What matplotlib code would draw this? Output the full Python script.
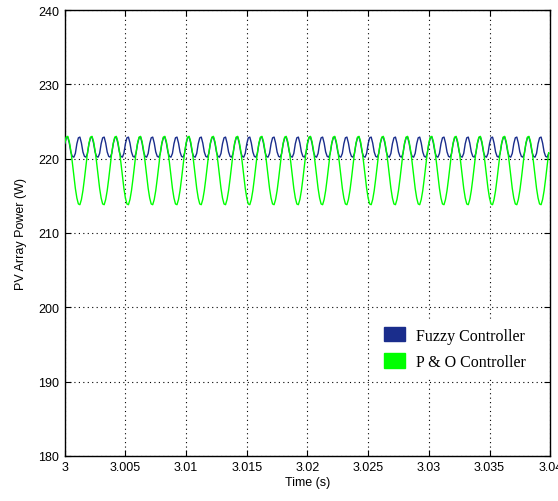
import numpy as np
import matplotlib
matplotlib.use("Agg")
import matplotlib.pyplot as plt
from matplotlib.patches import Patch

# Sample time base (s)
t_start = 3.0
t_step = 0.000125
n_samples = 320

# PV array power (W), one value per sample
fuzzy_power = [
    222.0, 222.8, 222.9, 222.1, 220.9, 220.3, 220.2, 220.7, 222.0, 222.8, 222.9, 222.1, 220.9, 220.3, 220.2, 220.7,
    222.0, 222.8, 222.9, 222.1, 220.9, 220.3, 220.2, 220.7, 222.0, 222.8, 222.9, 222.1, 220.9, 220.3, 220.2, 220.7,
    222.0, 222.8, 222.9, 222.1, 220.9, 220.3, 220.2, 220.7, 222.0, 222.8, 222.9, 222.1, 220.9, 220.3, 220.2, 220.7,
    222.0, 222.8, 222.9, 222.1, 220.9, 220.3, 220.2, 220.7, 222.0, 222.8, 222.9, 222.1, 220.9, 220.3, 220.2, 220.7,
    222.0, 222.8, 222.9, 222.1, 220.9, 220.3, 220.2, 220.7, 222.0, 222.8, 222.9, 222.1, 220.9, 220.3, 220.2, 220.7,
    222.0, 222.8, 222.9, 222.1, 220.9, 220.3, 220.2, 220.7, 222.0, 222.8, 222.9, 222.1, 220.9, 220.3, 220.2, 220.7,
    222.0, 222.8, 222.9, 222.1, 220.9, 220.3, 220.2, 220.7, 222.0, 222.8, 222.9, 222.1, 220.9, 220.3, 220.2, 220.7,
    222.0, 222.8, 222.9, 222.1, 220.9, 220.3, 220.2, 220.7, 222.0, 222.8, 222.9, 222.1, 220.9, 220.3, 220.2, 220.7,
    222.0, 222.8, 222.9, 222.1, 220.9, 220.3, 220.2, 220.7, 222.0, 222.8, 222.9, 222.1, 220.9, 220.3, 220.2, 220.7,
    222.0, 222.8, 222.9, 222.1, 220.9, 220.3, 220.2, 220.7, 222.0, 222.8, 222.9, 222.1, 220.9, 220.3, 220.2, 220.7,
    222.0, 222.8, 222.9, 222.1, 220.9, 220.3, 220.2, 220.7, 222.0, 222.8, 222.9, 222.1, 220.9, 220.3, 220.2, 220.7,
    222.0, 222.8, 222.9, 222.1, 220.9, 220.3, 220.2, 220.7, 222.0, 222.8, 222.9, 222.1, 220.9, 220.3, 220.2, 220.7,
    222.0, 222.8, 222.9, 222.1, 220.9, 220.3, 220.2, 220.7, 222.0, 222.8, 222.9, 222.1, 220.9, 220.3, 220.2, 220.7,
    222.0, 222.8, 222.9, 222.1, 220.9, 220.3, 220.2, 220.7, 222.0, 222.8, 222.9, 222.1, 220.9, 220.3, 220.2, 220.7,
    222.0, 222.8, 222.9, 222.1, 220.9, 220.3, 220.2, 220.7, 222.0, 222.8, 222.9, 222.1, 220.9, 220.3, 220.2, 220.7,
    222.0, 222.8, 222.9, 222.1, 220.9, 220.3, 220.2, 220.7, 222.0, 222.8, 222.9, 222.1, 220.9, 220.3, 220.2, 220.7,
    222.0, 222.8, 222.9, 222.1, 220.9, 220.3, 220.2, 220.7, 222.0, 222.8, 222.9, 222.1, 220.9, 220.3, 220.2, 220.7,
    222.0, 222.8, 222.9, 222.1, 220.9, 220.3, 220.2, 220.7, 222.0, 222.8, 222.9, 222.1, 220.9, 220.3, 220.2, 220.7,
    222.0, 222.8, 222.9, 222.1, 220.9, 220.3, 220.2, 220.7, 222.0, 222.8, 222.9, 222.1, 220.9, 220.3, 220.2, 220.7,
    222.0, 222.8, 222.9, 222.1, 220.9, 220.3, 220.2, 220.7, 222.0, 222.8, 222.9, 222.1, 220.9, 220.3, 220.2, 220.7,
]
po_power = [
    222.1, 222.9, 223.0, 222.3, 221.1, 219.5, 217.7, 216.0, 214.7, 213.9, 213.8, 214.5, 215.7, 217.3, 219.1, 220.8,
    222.1, 222.9, 223.0, 222.3, 221.1, 219.5, 217.7, 216.0, 214.7, 213.9, 213.8, 214.5, 215.7, 217.3, 219.1, 220.8,
    222.1, 222.9, 223.0, 222.3, 221.1, 219.5, 217.7, 216.0, 214.7, 213.9, 213.8, 214.5, 215.7, 217.3, 219.1, 220.8,
    222.1, 222.9, 223.0, 222.3, 221.1, 219.5, 217.7, 216.0, 214.7, 213.9, 213.8, 214.5, 215.7, 217.3, 219.1, 220.8,
    222.1, 222.9, 223.0, 222.3, 221.1, 219.5, 217.7, 216.0, 214.7, 213.9, 213.8, 214.5, 215.7, 217.3, 219.1, 220.8,
    222.1, 222.9, 223.0, 222.3, 221.1, 219.5, 217.7, 216.0, 214.7, 213.9, 213.8, 214.5, 215.7, 217.3, 219.1, 220.8,
    222.1, 222.9, 223.0, 222.3, 221.1, 219.5, 217.7, 216.0, 214.7, 213.9, 213.8, 214.5, 215.7, 217.3, 219.1, 220.8,
    222.1, 222.9, 223.0, 222.3, 221.1, 219.5, 217.7, 216.0, 214.7, 213.9, 213.8, 214.5, 215.7, 217.3, 219.1, 220.8,
    222.1, 222.9, 223.0, 222.3, 221.1, 219.5, 217.7, 216.0, 214.7, 213.9, 213.8, 214.5, 215.7, 217.3, 219.1, 220.8,
    222.1, 222.9, 223.0, 222.3, 221.1, 219.5, 217.7, 216.0, 214.7, 213.9, 213.8, 214.5, 215.7, 217.3, 219.1, 220.8,
    222.1, 222.9, 223.0, 222.3, 221.1, 219.5, 217.7, 216.0, 214.7, 213.9, 213.8, 214.5, 215.7, 217.3, 219.1, 220.8,
    222.1, 222.9, 223.0, 222.3, 221.1, 219.5, 217.7, 216.0, 214.7, 213.9, 213.8, 214.5, 215.7, 217.3, 219.1, 220.8,
    222.1, 222.9, 223.0, 222.3, 221.1, 219.5, 217.7, 216.0, 214.7, 213.9, 213.8, 214.5, 215.7, 217.3, 219.1, 220.8,
    222.1, 222.9, 223.0, 222.3, 221.1, 219.5, 217.7, 216.0, 214.7, 213.9, 213.8, 214.5, 215.7, 217.3, 219.1, 220.8,
    222.1, 222.9, 223.0, 222.3, 221.1, 219.5, 217.7, 216.0, 214.7, 213.9, 213.8, 214.5, 215.7, 217.3, 219.1, 220.8,
    222.1, 222.9, 223.0, 222.3, 221.1, 219.5, 217.7, 216.0, 214.7, 213.9, 213.8, 214.5, 215.7, 217.3, 219.1, 220.8,
    222.1, 222.9, 223.0, 222.3, 221.1, 219.5, 217.7, 216.0, 214.7, 213.9, 213.8, 214.5, 215.7, 217.3, 219.1, 220.8,
    222.1, 222.9, 223.0, 222.3, 221.1, 219.5, 217.7, 216.0, 214.7, 213.9, 213.8, 214.5, 215.7, 217.3, 219.1, 220.8,
    222.1, 222.9, 223.0, 222.3, 221.1, 219.5, 217.7, 216.0, 214.7, 213.9, 213.8, 214.5, 215.7, 217.3, 219.1, 220.8,
    222.1, 222.9, 223.0, 222.3, 221.1, 219.5, 217.7, 216.0, 214.7, 213.9, 213.8, 214.5, 215.7, 217.3, 219.1, 220.8,
]

series_labels = ["Fuzzy Controller", "P & O Controller"]
x_ticks = [3.0, 3.005, 3.01, 3.015, 3.02, 3.025, 3.03, 3.035, 3.04]
x_tick_labels = ["3", "3.005", "3.01", "3.015", "3.02", "3.025", "3.03", "3.035", "3.04"]
y_ticks = [180, 190, 200, 210, 220, 230, 240]

time = t_start + t_step * np.arange(n_samples)

plt.rcParams['font.family'] = ['Liberation Sans', 'DejaVu Sans']

fig = plt.figure(figsize=(5.58, 5.02), dpi=100)
ax = fig.add_axes([0.116, 0.090, 0.870, 0.888])

blue = "#1a2d8c"
green = "#00ff00"
ax.plot(time, fuzzy_power, color=blue, lw=1.0, zorder=3)
ax.plot(time, po_power, color=green, lw=1.0, zorder=4)

ax.set_xlim(3.0, 3.04)
ax.set_ylim(180, 240)
ax.set_xticks(x_ticks)
ax.set_xticklabels(x_tick_labels)
ax.set_yticks(y_ticks)
ax.tick_params(direction='in', length=4, width=0.8, top=True, right=True,
               labelsize=9, colors='black', pad=4)
ax.grid(True, color='black', linestyle=(0, (1, 3)), linewidth=0.8)
for s in ax.spines.values():
    s.set_linewidth(1.0)
    s.set_color('black')

ax.set_xlabel("Time (s)", fontsize=9, labelpad=2)
ax.set_ylabel("PV Array Power (W)", fontsize=9, labelpad=8)

handles = [Patch(facecolor=blue, edgecolor=blue), Patch(facecolor=green, edgecolor=green)]
leg = ax.legend(handles, series_labels, loc='upper left', bbox_to_anchor=(0.625, 0.325),
                frameon=True, fancybox=False, framealpha=1.0, edgecolor='white',
                facecolor='white', prop={'family': 'Liberation Serif', 'size': 11.5},
                handlelength=1.3, handleheight=1.0, labelspacing=0.62, handletextpad=0.7,
                borderpad=0.5)
leg.set_zorder(5)

fig.savefig("out.png", dpi=100)
